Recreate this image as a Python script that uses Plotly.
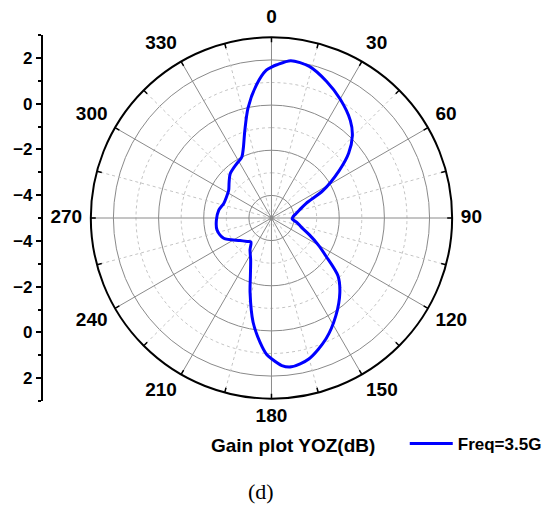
import math
import plotly.graph_objects as go

# ---- data ----
theta_deg = [0, 2, 7, 14, 22, 30, 39, 44.5, 50, 55, 62, 67, 74, 80, 87, 93, 100, 107,
             114, 120, 125, 131, 137.5, 146.6, 155.7, 165, 172.4, 176, 180, 182, 185.3,
             190, 196, 200, 206.6, 214, 220.6, 226, 234.4, 247, 257.7, 268, 278.5, 287,
             295, 303, 310, 317, 327, 334, 338, 343, 348, 353.6, 358, 360]
gain_db = [1.68, 1.79, 2.02, 1.92, 1.52, 1.08, 0.55, 0.11, -0.54, -1.34, -2.42, -3.33,
           -3.71, -3.90, -4.05, -4.08, -3.85, -3.62, -3.16, -2.6, -2.05, -1.1, -0.52,
           0.18, 0.87, 1.45, 1.65, 1.55, 1.23, 1.05, 0.52, -0.31, -1.56, -2.27, -2.94,
           -3.3, -3.6, -3.5, -3.29, -2.70, -2.53, -2.56, -2.64, -2.79, -2.8, -2.74,
           -2.55, -2.32, -2.15, -2.0, -1.67, -0.96, -0.01, 0.94, 1.55, 1.68]
series_name = "Freq=3.5G"

r_min, r_max = -5, 3
r_label_max = 4.5               # outer range of the (invisible) label ring
major_r = [-4, -2, 0, 2]
minor_r = [-3, -1, 1]
major_angles = list(range(0, 360, 30))
minor_angles = list(range(15, 360, 30))
angle_ticks = list(range(0, 360, 15))
angle_label_text = [str(a) for a in major_angles]

left_tick_vals = [7, 5, 3, 1, -1, -3, -5, -7]           # offset from centre (dB)
left_tick_text = ["2", "0", "\u22122", "\u22124", "\u22124", "\u22122", "0", "2"]

W, H = 547, 506
cx, cy, R = 275, 218, 183
px_per_db = R / (r_max - r_min)
R2 = px_per_db * (r_label_max - r_min)
tick_len_db = 5.0 / px_per_db   # 5 px inward tick, in dB units

label_font = 19
pad_x, pad_y = 9.0, 12.0        # gap between rim and label box
char_w = 0.556 * label_font
half_h = 0.36 * label_font

def _sgn(v):
    return 0.0 if abs(v) < 1e-9 else (1.0 if v > 0 else -1.0)

def label_pos(angle, text):
    """(r, theta) of a label centre, with its box just outside the rim."""
    hw = len(text) * char_w / 2.0
    s, c = math.sin(math.radians(angle)), math.cos(math.radians(angle))
    dx = (R + pad_x) * s + hw * _sgn(s)
    dy = (R + pad_y) * c + half_h * _sgn(c)
    d = math.hypot(dx, dy)
    th = math.degrees(math.atan2(dx, dy)) % 360
    return r_min + d / px_per_db, th

label_rt = [label_pos(a, t) for a, t in zip(major_angles, angle_label_text)]

fig = go.Figure()

# dotted circles
circ_theta = [i for i in range(0, 361, 2)]
for rv in minor_r:
    fig.add_trace(go.Scatterpolar(r=[rv] * len(circ_theta), theta=circ_theta, mode="lines",
                                  line=dict(color="#c4c4c4", width=1, dash="dot"),
                                  hoverinfo="skip", showlegend=False))
# dotted spokes
rr, tt = [], []
for a in minor_angles:
    rr += [r_min, r_max, None]
    tt += [a, a, None]
fig.add_trace(go.Scatterpolar(r=rr, theta=tt, mode="lines",
                              line=dict(color="#c4c4c4", width=1, dash="dot"),
                              hoverinfo="skip", showlegend=False))
# solid spokes
rr, tt = [], []
for a in major_angles:
    rr += [r_min, r_max, None]
    tt += [a, a, None]
fig.add_trace(go.Scatterpolar(r=rr, theta=tt, mode="lines",
                              line=dict(color="#8a8a8a", width=1),
                              hoverinfo="skip", showlegend=False))
# inward tick marks on the rim
rr, tt = [], []
for a in angle_ticks:
    rr += [r_max - tick_len_db, r_max, None]
    tt += [a, a, None]
fig.add_trace(go.Scatterpolar(r=rr, theta=tt, mode="lines",
                              line=dict(color="black", width=1.5),
                              hoverinfo="skip", showlegend=False))

# main curve
fig.add_trace(go.Scatterpolar(r=gain_db, theta=theta_deg, mode="lines", name="<b>" + series_name + "</b>",
                              line=dict(color="#0000ff", width=3, shape="spline", smoothing=0.8)))

# angular tick labels, on a concentric invisible polar with the same dB scale
fig.add_trace(go.Scatterpolar(
    r=[p[0] for p in label_rt], theta=[p[1] for p in label_rt],
    mode="text", subplot="polar2",
    text=["<b>%s</b>" % t for t in angle_label_text],
    textposition="middle center",
    textfont=dict(size=label_font, family="Liberation Sans, Arial, sans-serif", color="black"),
    hoverinfo="skip", showlegend=False))

# invisible helper for the left cartesian axis
fig.add_trace(go.Scatter(x=[0], y=[0], mode="markers", marker=dict(opacity=0),
                         hoverinfo="skip", showlegend=False, xaxis="x", yaxis="y"))

font_fam = "Liberation Sans, Arial, sans-serif"

pd_x = [(cx - R) / W, (cx + R) / W]
pd_y = [(H - (cy + R)) / H, (H - (cy - R)) / H]
pd2_x = [(cx - R2) / W, (cx + R2) / W]
pd2_y = [(H - (cy + R2)) / H, (H - (cy - R2)) / H]

fig.update_layout(
    width=W, height=H,
    margin=dict(l=0, r=0, t=0, b=0),
    paper_bgcolor="white", plot_bgcolor="white",
    font=dict(family=font_fam, color="black"),
    polar=dict(
        domain=dict(x=pd_x, y=pd_y),
        bgcolor="white",
        radialaxis=dict(range=[r_min, r_max], tickmode="array", tickvals=major_r,
                        showticklabels=False, ticks="", showline=False,
                        showgrid=True, gridcolor="#8a8a8a", gridwidth=1),
        angularaxis=dict(rotation=90, direction="clockwise", tickmode="array",
                         tickvals=angle_ticks, showticklabels=False, ticks="",
                         showline=True, linecolor="black", linewidth=2,
                         showgrid=False),
    ),
    polar2=dict(
        domain=dict(x=pd2_x, y=pd2_y),
        bgcolor="rgba(0,0,0,0)",
        radialaxis=dict(range=[r_min, r_label_max], visible=False),
        angularaxis=dict(rotation=90, direction="clockwise", visible=False),
    ),
    xaxis=dict(domain=[43.5 / W, 60 / W], visible=False, range=[-1, 1], fixedrange=True),
    yaxis=dict(domain=pd_y, anchor="x", side="left", range=[-8, 8],
               tickmode="array", tickvals=left_tick_vals,
               ticktext=["<b>%s</b>" % t for t in left_tick_text],
               ticks="outside", ticklen=5, tickwidth=1.5, tickcolor="black",
               minor=dict(tick0=0, dtick=2, ticks="outside", ticklen=3, tickwidth=1.5,
                          tickcolor="black", showgrid=False),
               showline=True, linecolor="black", linewidth=2,
               showgrid=False, zeroline=False,
               tickfont=dict(size=17, family=font_fam, color="black")),
    legend=dict(x=410 / W, y=(H - 444) / H, xanchor="left", yanchor="middle",
                bgcolor="rgba(0,0,0,0)", borderwidth=0, itemwidth=43,
                font=dict(size=17, family=font_fam, color="black")),
    showlegend=True,
    annotations=[
        dict(text="<b>Gain plot YOZ(dB)</b>", x=297 / W, y=(H - 445) / H,
             xref="paper", yref="paper", showarrow=False, xanchor="center", yanchor="middle",
             font=dict(size=19, family=font_fam, color="black")),
        dict(text="(d)", x=264 / W, y=(H - 491) / H,
             xref="paper", yref="paper", showarrow=False, xanchor="center", yanchor="middle",
             font=dict(size=22, family="Liberation Serif, Times New Roman, serif", color="black")),
    ],
)

fig.write_html("out.html")
